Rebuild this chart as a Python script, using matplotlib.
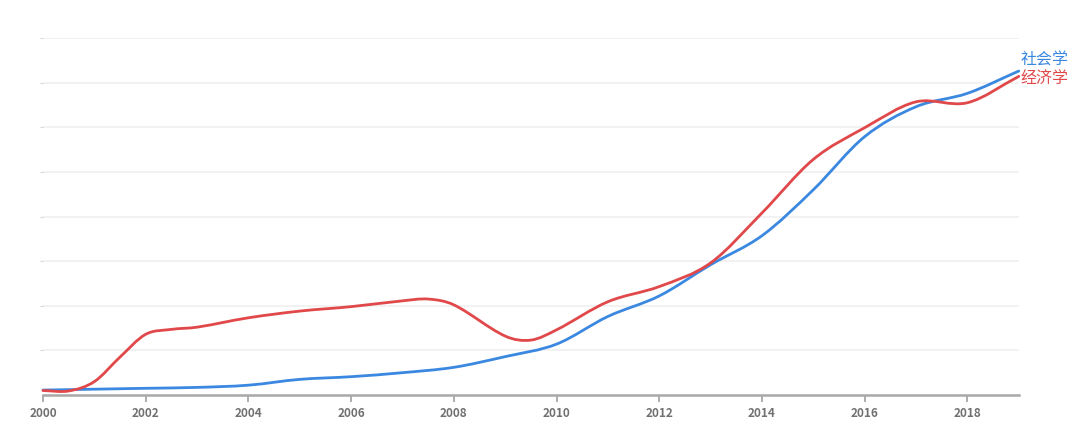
import numpy as np
import matplotlib.pyplot as plt
from matplotlib.path import Path
from matplotlib.patches import PathPatch

plt.rcParams['font.family'] = ['Noto Sans CJK SC', 'DejaVu Sans']

# values (grid units, 0..8)
years_soc = [2000, 2001, 2002, 2003, 2004, 2005, 2006, 2007, 2008, 2009,
             2010, 2011, 2012, 2013, 2014, 2015, 2016, 2017, 2018, 2019]
sociology = [0.11, 0.13, 0.15, 0.17, 0.22, 0.35, 0.41, 0.50, 0.62, 0.86,
             1.14, 1.76, 2.22, 2.92, 3.57, 4.60, 5.79, 6.46, 6.76, 7.26]

years_eco = [2000, 2000.5, 2001, 2001.5, 2002, 2002.5, 2003, 2004, 2005,
             2006, 2007, 2007.5, 2008, 2009, 2009.5, 2010, 2011, 2012, 2013,
             2014, 2015, 2016, 2017, 2018, 2019]
economics = [0.10, 0.09, 0.30, 0.85, 1.36, 1.47, 1.52, 1.73, 1.88,
             1.98, 2.11, 2.15, 2.02, 1.32, 1.23, 1.46, 2.09, 2.43, 2.96,
             4.08, 5.28, 5.99, 6.57, 6.55, 7.14]

tick_years = list(range(2000, 2019, 2))

blue = '#3b88e0'
red = '#e0484a'


def smooth_path(xs, ys):
    # catmull-rom style bezier through the points
    xs = np.asarray(xs, float)
    ys = np.asarray(ys, float)
    verts = [(xs[0], ys[0])]
    codes = [Path.MOVETO]
    n = len(xs)
    for i in range(n - 1):
        x0, y0 = (xs[i - 1], ys[i - 1]) if i > 0 else (xs[i], ys[i])
        x3, y3 = (xs[i + 2], ys[i + 2]) if i + 2 < n else (xs[i + 1], ys[i + 1])
        x1, y1 = xs[i], ys[i]
        x2, y2 = xs[i + 1], ys[i + 1]
        h = x2 - x1
        m1 = (y2 - y0) / (x2 - x0)
        m2 = (y3 - y1) / (x3 - x1)
        verts += [(x1 + h / 3, y1 + m1 * h / 3),
                  (x2 - h / 3, y2 - m2 * h / 3),
                  (x2, y2)]
        codes += [Path.CURVE4] * 3
    return Path(verts, codes)


fig = plt.figure(figsize=(10.8, 4.4), dpi=100)
ax = fig.add_axes([0.0398, 0.1023, 0.9035, 0.8113])

ax.set_xlim(2000, 2019)
ax.set_ylim(0, 8)

for xs, ys, c in [(years_soc, sociology, blue), (years_eco, economics, red)]:
    ax.add_patch(PathPatch(smooth_path(xs, ys), facecolor='none',
                           edgecolor=c, lw=2.0, capstyle='round',
                           clip_on=False, zorder=3))

# end labels
ax.text(2019.03, sociology[-1] + 0.25, '社会学', color=blue, fontsize=11.5,
        va='center', ha='left', clip_on=False)
ax.text(2019.03, economics[-1] - 0.04, '经济学', color=red, fontsize=11.5,
        va='center', ha='left', clip_on=False)

ax.set_yticks(range(1, 9))
ax.yaxis.grid(True, color='#f0f0f0', lw=1.2)
ax.tick_params(axis='y', length=2, color='#d8d8d8', labelleft=False)
ax.set_xticks(tick_years)
ax.set_xticklabels([str(y) for y in tick_years])
ax.tick_params(axis='x', length=5, width=1.2, color='#a0a0a0',
               labelsize=8.5, labelcolor='#707070', pad=4)
for lab in ax.get_xticklabels():
    lab.set_fontweight('bold')

for s in ['top', 'right', 'left']:
    ax.spines[s].set_visible(False)
ax.spines['bottom'].set_color('#a8a8a8')
ax.spines['bottom'].set_linewidth(1.8)

fig.savefig('out.png', dpi=100, facecolor='white')
